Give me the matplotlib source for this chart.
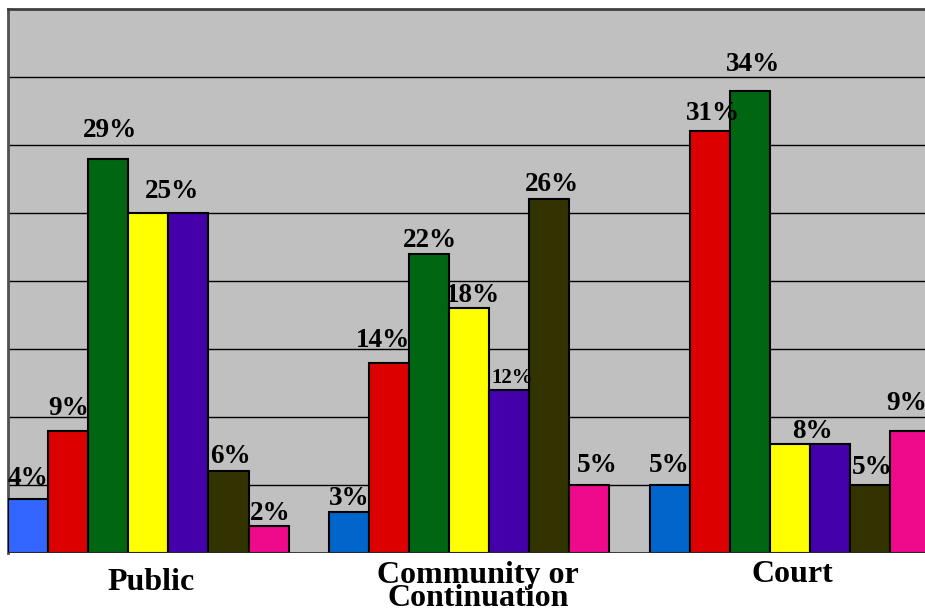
import matplotlib
matplotlib.use("Agg")
import matplotlib.pyplot as plt
from matplotlib.transforms import blended_transform_factory

# Percent of students in each setting, seven response groups per setting
settings = ["Public", "Community or\nContinuation", "Court"]
public = [4, 9, 29, 25, 25, 6, 2]
community = [3, 14, 22, 18, 12, 26, 5]
court = [5, 31, 34, 8, 8, 5, 9]

series_colors = ["#0066CC", "#DD0000", "#006611", "#FFFF00", "#4400AA", "#333300", "#EE0A8A"]
public_first_color = "#3366FF"

# Which bars carry a value label (None = no label); shared labels sit on the bar boundary
public_labels = ["4%", "9%", "29%", "25%", None, "6%", "2%"]
community_labels = ["3%", "14%", "22%", "18%", "12%", "26%", "5%"]
court_labels = ["5%", "31%", "34%", "8%", None, "5%", "9%"]

groups = [public, community, court]
group_labels = [public_labels, community_labels, court_labels]

# label placement relative to the bar's centre (x, in bar widths) and top (y, in percent)
label_dx = [
    [0, 0, 0.04, 0.59, 0, 0.04, 0.03],
    [0, -0.15, 0.02, 0.1, 0.07, 0.07, 0.19],
    [-0.02, 0.08, 0.08, 0.55, 0, 0.05, -0.1],
]
label_dy = [
    [1.5, 1.66, 2.03, 1.6, 0, 1.06, 0.94],
    [1.04, 1.66, 1.0, 0.97, 0.87, 1.06, 1.47],
    [1.4, 1.35, 1.9, 0.97, 0, 1.25, 1.96],
]

W, H = 925, 613
fig = plt.figure(figsize=(W / 100, H / 100), dpi=100)
ax_left, ax_bottom, ax_top = 8, 553, 9
unit = 40.1
xmax = 24
ax = fig.add_axes([ax_left / W, (H - ax_bottom) / H, xmax * unit / W, (ax_bottom - ax_top) / H])
ax.set_facecolor("#C0C0C0")
ax.set_xlim(0, xmax)
ax.set_ylim(0, 40)

for y in range(5, 40, 5):
    ax.axhline(y, color="black", lw=1.0, zorder=1)

serif = "Liberation Serif"
for g, (vals, labs) in enumerate(zip(groups, group_labels)):
    start = g * 8
    for i, v in enumerate(vals):
        color = series_colors[i]
        if g == 0 and i == 0:
            color = public_first_color
        ax.bar(start + i, v, width=1.0, align="edge", color=color,
               edgecolor="black", linewidth=1.5, zorder=3)
        lab = labs[i]
        if lab is not None:
            size = 15 if lab == "12%" else 19.5
            ax.text(start + i + 0.5 + label_dx[g][i], v + label_dy[g][i], lab,
                    ha="center", va="center", fontsize=size, fontweight="bold",
                    family=serif, zorder=4)

for spine in ["right", "bottom"]:
    ax.spines[spine].set_visible(False)
ax.spines["top"].set_color("#404040")
ax.spines["top"].set_linewidth(2)
ax.spines["left"].set_color("#505050")
ax.spines["left"].set_linewidth(2)
ax.axhline(0, color="#303030", lw=2, zorder=5)
ax.set_xticks([])
ax.set_yticks([])

label_x = [3.56, 11.73, 19.55]
label_y = [582, 587, 574]
trans = blended_transform_factory(ax.transData, fig.transFigure)
for name, x, yp in zip(settings, label_x, label_y):
    ax.text(x, 1 - yp / H, name, transform=trans,
            ha="center", va="center", fontsize=23, fontweight="bold", family=serif,
            linespacing=0.76)

fig.savefig("out.png", dpi=100)
